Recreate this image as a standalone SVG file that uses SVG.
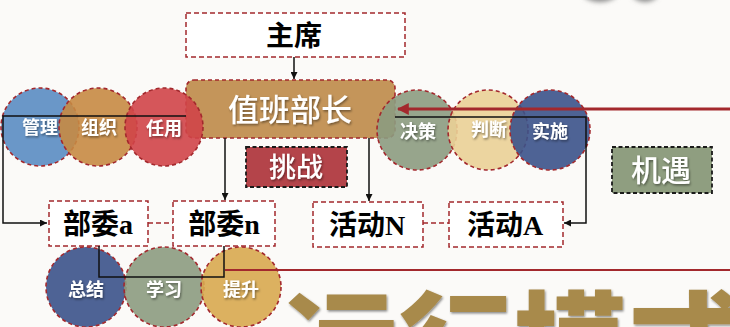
<svg xmlns="http://www.w3.org/2000/svg" width="730" height="327" viewBox="0 0 730 327">
<defs>
<style>
.box{fill:#ffffff;stroke:#A3282D;stroke-width:1.5;stroke-dasharray:5 3}
.dk{stroke:#1a1a1a;stroke-width:1.8;stroke-dasharray:4 2.5}
.circ{stroke:#A3282D;stroke-width:1.6;stroke-dasharray:4 3;fill-opacity:0.9}
.ln{fill:none;stroke:#111;stroke-width:1.5}
.lk{fill:none;stroke:#A3282D;stroke-width:1.5;stroke-dasharray:5 3}
.cl{font-family:"Noto Sans CJK SC",sans-serif;font-weight:700;font-size:18px;fill:#fff;text-anchor:middle;filter:url(#sh)}
.bt{font-family:"Liberation Serif","Noto Sans CJK SC",serif;font-weight:700;font-size:28px;fill:#000;text-anchor:middle}
.wt{font-family:"Noto Sans CJK SC",sans-serif;font-weight:500;fill:#fff;text-anchor:middle;filter:url(#sh)}
</style>
<filter id="sh" x="-20%" y="-20%" width="140%" height="150%"><feDropShadow dx="1" dy="1.5" stdDeviation="0.8" flood-color="#000" flood-opacity="0.45"/></filter>
<filter id="bl" x="-50%" y="-50%" width="200%" height="200%"><feGaussianBlur stdDeviation="2.5"/></filter>
<marker id="ah" viewBox="0 0 10 10" refX="10" refY="5" markerWidth="7" markerHeight="7" orient="auto" markerUnits="userSpaceOnUse"><path d="M0,0 L10,5 L0,10 z" fill="#111"/></marker>
<marker id="ahr" viewBox="0 0 10 10" refX="9" refY="5" markerWidth="12" markerHeight="12" orient="auto" markerUnits="userSpaceOnUse"><path d="M0,0 L10,5 L0,10 z" fill="#A3282D"/></marker>
</defs>
<rect width="730" height="327" fill="#FBFAF8"/>
<g id="deco" filter="url(#bl)" fill="#8a8a8a">
<ellipse cx="600" cy="-7" rx="17" ry="9"/>
<ellipse cx="645" cy="-7" rx="13" ry="9"/>
</g>
<text id="title" x="283" y="388" font-family="Noto Sans CJK SC,sans-serif" font-weight="900" font-size="115" fill="#A88A4C" filter="url(#sh)">运行模式</text>

<g id="n-zhuxi"><rect class="box" x="186" y="13" width="219" height="44"/><text class="bt" x="294" y="46">主席</text></g>
<g id="n-zhiban"><rect x="186" y="80" width="209" height="58" rx="8" fill="#C4955A" stroke="#A3282D" stroke-width="1.6" stroke-dasharray="4 3"/><text class="wt" x="290" y="121" font-size="31">值班部长</text></g>

<g id="n-guanli"><circle class="circ" cx="40" cy="127" r="39" fill="#5A8CC2"/><text class="cl" x="40" y="134">管理</text></g>
<g id="n-zuzhi"><circle class="circ" cx="98" cy="127" r="39" fill="#C68A42"/><text class="cl" x="99" y="134">组织</text></g>
<g id="n-renyong"><circle class="circ" cx="164" cy="127" r="39" fill="#D04448"/><text class="cl" x="164" y="135">任用</text></g>

<g id="n-juece"><circle class="circ" cx="417" cy="130" r="40" fill="#8C9B7F"/><text class="cl" x="418" y="138">决策</text></g>
<g id="n-panduan"><circle class="circ" cx="488" cy="130" r="40" fill="#EAD096"/><text class="cl" x="489" y="136">判断</text></g>
<g id="n-shishi"><circle class="circ" cx="550" cy="130" r="40" fill="#3B528A"/><text class="cl" x="550" y="138">实施</text></g>

<g id="n-tiaozhan"><rect x="246" y="147" width="101" height="40" fill="#B4444A" class="dk"/><text class="wt" x="296" y="177" font-size="27">挑战</text></g>
<g id="n-jiyu"><rect x="612" y="147" width="100" height="46" fill="#8F9E80" class="dk"/><text class="wt" x="661" y="181" font-size="30">机遇</text></g>

<g id="n-buweia"><rect class="box" x="49" y="201" width="99" height="45"/><text class="bt" x="98" y="234">部委a</text></g>
<g id="n-buwein"><rect class="box" x="173" y="201" width="102" height="45"/><text class="bt" x="224" y="234">部委n</text></g>
<g id="n-huodongN"><rect class="box" x="313" y="202" width="110" height="45"/><text class="bt" x="367" y="235">活动N</text></g>
<g id="n-huodongA"><rect class="box" x="449" y="202" width="114" height="45"/><text class="bt" x="505" y="235">活动A</text></g>

<g id="n-zongjie"><circle class="circ" cx="86" cy="287" r="40" fill="#3B528A"/><text class="cl" x="86" y="296">总结</text></g>
<g id="n-xuexi"><circle class="circ" cx="164" cy="287" r="40" fill="#8C9B7F"/><text class="cl" x="164" y="296">学习</text></g>
<g id="n-tisheng"><circle class="circ" cx="241" cy="287" r="40" fill="#D8A94F"/><text class="cl" x="241" y="296">提升</text></g>

<g id="connectors">
<path class="ln" d="M294,57 V79" marker-end="url(#ah)"/>
<path class="ln" d="M186,116 H3 V223 H47" marker-end="url(#ah)"/>
<path class="ln" d="M225,138 V200" marker-end="url(#ah)"/>
<path class="ln" d="M369,138 V201" marker-end="url(#ah)"/>
<path class="ln" d="M395,117 H586 V223 H564" marker-end="url(#ah)"/>
<path d="M730,109 H398" fill="none" stroke="#A3282D" stroke-width="3" marker-end="url(#ahr)"/>
<path class="ln" d="M99,246 V277 H224 V246"/>
<path d="M225,270 H730" fill="none" stroke="#A3282D" stroke-width="2.2"/>
<path class="lk" d="M148,223 H173"/>
<path class="lk" d="M423,223 H449"/>
</g>
</svg>
